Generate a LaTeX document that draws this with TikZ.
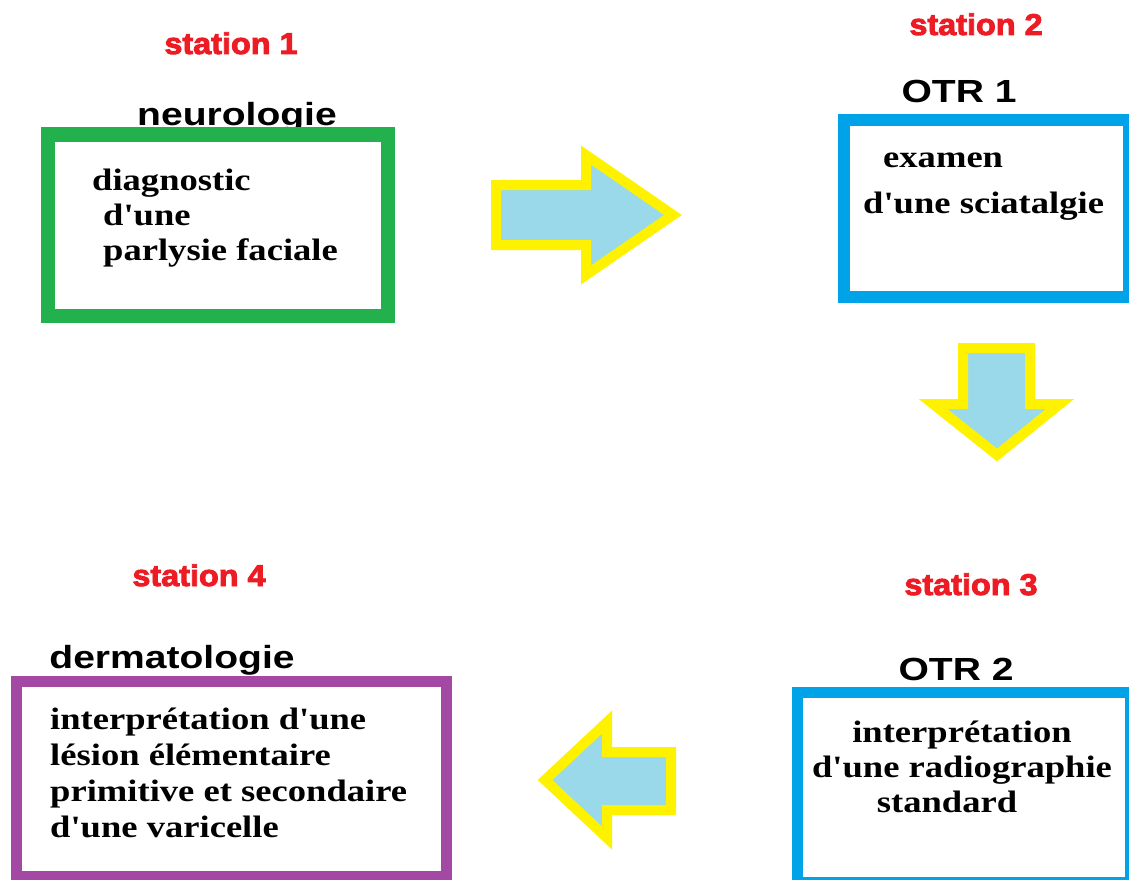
\documentclass[tikz,border=0pt]{standalone}
\usepackage{fontspec}
\setmainfont{Liberation Serif}
\newfontfamily\bodyfont[FakeStretch=1.18]{Liberation Serif}
\newfontfamily\headfont[FakeStretch=1.22]{Liberation Sans}
\newfontfamily\stationfont[FakeStretch=1.08,BoldFeatures={FakeBold=3}]{Liberation Sans}
\definecolor{stationred}{HTML}{ED1C24}
\definecolor{neurogreen}{HTML}{22B14C}
\definecolor{otrblue}{HTML}{00A2E8}
\definecolor{dermapurple}{HTML}{A349A4}
\definecolor{arrowyellow}{HTML}{FFF200}
\definecolor{arrowblue}{HTML}{99D9EA}
\tikzset{
  station/.style={text=stationred,anchor=base,inner sep=0pt,
    font=\stationfont\bfseries\fontsize{30}{36}\selectfont},
  heading/.style={anchor=base,inner sep=0pt,
    font=\headfont\bfseries\fontsize{32}{38}\selectfont},
  frame/.style={draw=#1,fill=white,rectangle,inner sep=0pt},
  boxtext/.style={anchor=base west,inner sep=0pt,align=left,
    font=\bodyfont\bfseries\fontsize{31}{35}\selectfont},
  blockarrow/.style={draw=arrowyellow,fill=arrowblue,line width=10pt,line join=miter}
}
\begin{document}
\begin{tikzpicture}[x=1pt,y=-1pt]
    \useasboundingbox (0,0) rectangle (1129,880);
    \fill[white] (0,0) rectangle (1129,880);
    \clip (0,0) rectangle (1129,880);

    % station 1
    \node[station] (station1) at (231,54) {station 1};
    \node[heading] (neuro) at (237,126) {neurologie};
    \node[frame=neurogreen,line width=14pt,minimum width=340pt,minimum height=181pt] (box1) at (218,225) {};
    % multi-line texts: base = last line
    \node[boxtext] (text1) at (92,260) {diagnostic\\\hspace*{11pt}d'une\\\hspace*{11pt}parlysie faciale};

    % station 2
    \node[station] (station2) at (976,35) {station 2};
    \node[heading] (otr1) at (959,103) {OTR 1};
    \node[frame=otrblue,line width=12pt,minimum width=285pt,minimum height=177pt] (box2) at (986.5,208.5) {};
    \node[boxtext] (text2) at (883,213) {examen\\[11pt]\hspace*{-20pt}d'une sciatalgie};

    % station 3
    \node[station] (station3) at (971,595) {station 3};
    \node[heading] (otr2) at (956,680) {OTR 2};
    \node[frame=otrblue,line width=11pt,minimum width=333.5pt,minimum height=190pt] (box3) at (964,787) {};
    \node[boxtext,anchor=base,align=center] (text3) at (962,812) {interprétation\\d'une radiographie\\standard\hspace*{30pt}};

    % station 4
    \node[station] (station4) at (199,586) {station 4};
    \node[heading] (derma) at (172,668) {dermatologie};
    \node[frame=dermapurple,line width=11pt,minimum width=430pt,minimum height=194.5pt] (box4) at (231,778.75) {};
    \node[boxtext,font=\bodyfont\bfseries\fontsize{31}{35.7}\selectfont] (text4) at (50,837) {interprétation d'une\\lésion élémentaire\\primitive et secondaire\\d'une varicelle};

    % arrows
    \draw[blockarrow] (496,185) -- (586,185) -- (586,155) -- (673,215) -- (586,275) -- (586,245) -- (496,245) -- cycle;
    \draw[blockarrow] (963,348) -- (1030,348) -- (1030,404) -- (1060,404) -- (997,455) -- (933,404) -- (963,404) -- cycle;
    \draw[blockarrow] (671,752) -- (607,752) -- (607,722) -- (545,780) -- (607,838) -- (607,810) -- (671,810) -- cycle;
\end{tikzpicture}
\end{document}
